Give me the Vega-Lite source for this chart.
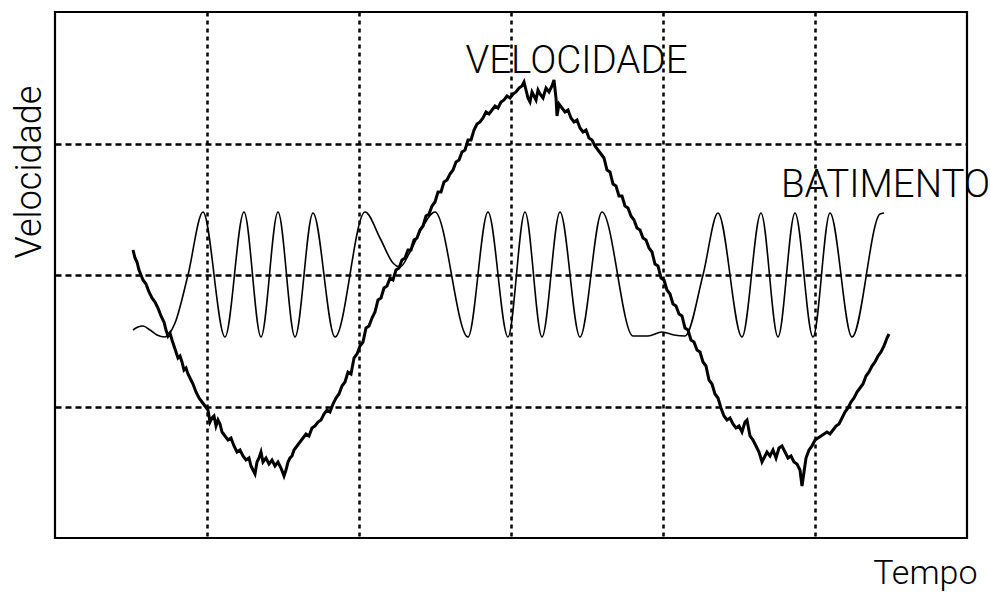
{
  "$schema": "https://vega.github.io/schema/vega-lite/v6.json",
  "width": 912,
  "height": 526,
  "autosize": "none",
  "padding": {"left": 55, "top": 12, "right": 23, "bottom": 55},
  "background": "white",
  "config": {"view": {"stroke": "black", "strokeWidth": 2.2}, "font": "Roboto"},
  "datasets": {
    "beat": [
      {"t":78,"v":-55},{"t":83,"v":-52},{"t":88,"v":-51},{"t":95,"v":-55},{"t":102,"v":-60},{"t":110,"v":-62},{"t":120,"v":-48},{"t":133,"v":0},{"t":148,"v":63},{"t":170,"v":-62},{"t":189,"v":63},{"t":206,"v":-62},{"t":223,"v":63},{"t":240,"v":-62},{"t":258,"v":62},{"t":280,"v":-62},{"t":310,"v":63},{"t":325,"v":37},{"t":338,"v":12},{"t":345,"v":8},{"t":355,"v":23},{"t":367,"v":47},{"t":380,"v":63},{"t":413,"v":-62},{"t":433,"v":63},{"t":453,"v":-62},{"t":470,"v":63},{"t":487,"v":-62},{"t":505,"v":63},{"t":525,"v":-62},{"t":547,"v":63},{"t":578,"v":-61},{"t":593,"v":-61},{"t":607,"v":-57},{"t":619,"v":-60},{"t":630,"v":-61},{"t":648,"v":0},{"t":663,"v":62},{"t":687,"v":-62},{"t":706,"v":62},{"t":723,"v":-62},{"t":740,"v":62},{"t":758,"v":-62},{"t":775,"v":62},{"t":797,"v":-62},{"t":825,"v":61},{"t":829,"v":62}
    ],
    "vel": [
      {"t":78,"v":25},{"t":80,"v":17},{"t":82,"v":13},{"t":84,"v":5},{"t":86,"v":0},{"t":88,"v":-5},{"t":91,"v":-9},{"t":94,"v":-17},{"t":97,"v":-23},{"t":100,"v":-27},{"t":103,"v":-33},{"t":106,"v":-41},{"t":109,"v":-47},{"t":111,"v":-55},{"t":113,"v":-61},{"t":115,"v":-58},{"t":117,"v":-65},{"t":119,"v":-71},{"t":121,"v":-77},{"t":123,"v":-83},{"t":125,"v":-81},{"t":127,"v":-87},{"t":129,"v":-95},{"t":131,"v":-93},{"t":133,"v":-99},{"t":135,"v":-103},{"t":138,"v":-109},{"t":141,"v":-117},{"t":144,"v":-123},{"t":147,"v":-127},{"t":150,"v":-131},{"t":153,"v":-135},{"t":155,"v":-147},{"t":157,"v":-143},{"t":159,"v":-141},{"t":161,"v":-151},{"t":163,"v":-145},{"t":165,"v":-149},{"t":167,"v":-157},{"t":170,"v":-161},{"t":173,"v":-165},{"t":176,"v":-163},{"t":179,"v":-171},{"t":182,"v":-177},{"t":185,"v":-175},{"t":188,"v":-181},{"t":191,"v":-185},{"t":194,"v":-183},{"t":196,"v":-191},{"t":198,"v":-195},{"t":200,"v":-199},{"t":202,"v":-187},{"t":204,"v":-183},{"t":206,"v":-177},{"t":208,"v":-187},{"t":211,"v":-183},{"t":214,"v":-189},{"t":217,"v":-185},{"t":220,"v":-191},{"t":223,"v":-187},{"t":226,"v":-193},{"t":229,"v":-201},{"t":231,"v":-195},{"t":233,"v":-187},{"t":235,"v":-183},{"t":237,"v":-181},{"t":239,"v":-175},{"t":242,"v":-171},{"t":245,"v":-167},{"t":248,"v":-163},{"t":251,"v":-159},{"t":254,"v":-161},{"t":257,"v":-153},{"t":260,"v":-151},{"t":263,"v":-147},{"t":266,"v":-145},{"t":269,"v":-139},{"t":272,"v":-135},{"t":275,"v":-137},{"t":278,"v":-129},{"t":281,"v":-123},{"t":284,"v":-119},{"t":287,"v":-111},{"t":290,"v":-107},{"t":293,"v":-97},{"t":296,"v":-99},{"t":299,"v":-83},{"t":302,"v":-79},{"t":305,"v":-71},{"t":308,"v":-67},{"t":311,"v":-53},{"t":314,"v":-51},{"t":317,"v":-43},{"t":320,"v":-37},{"t":323,"v":-25},{"t":326,"v":-23},{"t":329,"v":-13},{"t":332,"v":-11},{"t":335,"v":-3},{"t":338,"v":-5},{"t":341,"v":5},{"t":344,"v":7},{"t":347,"v":15},{"t":350,"v":17},{"t":353,"v":25},{"t":356,"v":25},{"t":359,"v":35},{"t":362,"v":37},{"t":365,"v":45},{"t":368,"v":49},{"t":371,"v":59},{"t":374,"v":61},{"t":377,"v":69},{"t":380,"v":73},{"t":383,"v":83},{"t":386,"v":83},{"t":389,"v":93},{"t":392,"v":95},{"t":395,"v":101},{"t":398,"v":105},{"t":401,"v":113},{"t":404,"v":115},{"t":407,"v":123},{"t":410,"v":125},{"t":413,"v":135},{"t":416,"v":135},{"t":419,"v":145},{"t":422,"v":151},{"t":425,"v":153},{"t":428,"v":157},{"t":431,"v":163},{"t":434,"v":161},{"t":437,"v":165},{"t":440,"v":169},{"t":443,"v":167},{"t":446,"v":173},{"t":449,"v":175},{"t":452,"v":179},{"t":455,"v":177},{"t":458,"v":181},{"t":461,"v":183},{"t":464,"v":187},{"t":467,"v":189},{"t":469,"v":193},{"t":471,"v":185},{"t":473,"v":177},{"t":475,"v":173},{"t":477,"v":183},{"t":479,"v":179},{"t":481,"v":175},{"t":483,"v":185},{"t":485,"v":181},{"t":488,"v":177},{"t":491,"v":187},{"t":494,"v":183},{"t":497,"v":189},{"t":499,"v":195},{"t":501,"v":177},{"t":502,"v":159},{"t":504,"v":171},{"t":507,"v":167},{"t":510,"v":163},{"t":513,"v":165},{"t":516,"v":157},{"t":519,"v":153},{"t":522,"v":155},{"t":525,"v":147},{"t":528,"v":143},{"t":531,"v":145},{"t":534,"v":137},{"t":537,"v":135},{"t":540,"v":129},{"t":543,"v":125},{"t":546,"v":121},{"t":549,"v":117},{"t":552,"v":105},{"t":555,"v":103},{"t":558,"v":91},{"t":561,"v":89},{"t":564,"v":79},{"t":567,"v":79},{"t":570,"v":69},{"t":573,"v":67},{"t":576,"v":59},{"t":579,"v":55},{"t":582,"v":47},{"t":585,"v":45},{"t":588,"v":37},{"t":591,"v":35},{"t":594,"v":27},{"t":597,"v":23},{"t":600,"v":11},{"t":603,"v":9},{"t":606,"v":-3},{"t":609,"v":-5},{"t":612,"v":-15},{"t":615,"v":-19},{"t":618,"v":-29},{"t":621,"v":-31},{"t":624,"v":-39},{"t":627,"v":-41},{"t":630,"v":-53},{"t":633,"v":-55},{"t":636,"v":-65},{"t":639,"v":-67},{"t":642,"v":-75},{"t":645,"v":-77},{"t":648,"v":-87},{"t":651,"v":-91},{"t":654,"v":-105},{"t":657,"v":-109},{"t":660,"v":-119},{"t":663,"v":-123},{"t":666,"v":-133},{"t":669,"v":-141},{"t":672,"v":-145},{"t":675,"v":-143},{"t":678,"v":-149},{"t":681,"v":-153},{"t":684,"v":-151},{"t":687,"v":-157},{"t":690,"v":-147},{"t":692,"v":-145},{"t":695,"v":-161},{"t":698,"v":-165},{"t":701,"v":-171},{"t":704,"v":-177},{"t":707,"v":-187},{"t":709,"v":-183},{"t":712,"v":-177},{"t":715,"v":-181},{"t":718,"v":-175},{"t":721,"v":-183},{"t":724,"v":-173},{"t":727,"v":-171},{"t":730,"v":-177},{"t":733,"v":-183},{"t":736,"v":-181},{"t":739,"v":-187},{"t":742,"v":-189},{"t":745,"v":-195},{"t":747,"v":-211},{"t":749,"v":-197},{"t":751,"v":-183},{"t":754,"v":-175},{"t":757,"v":-171},{"t":760,"v":-165},{"t":763,"v":-163},{"t":766,"v":-161},{"t":769,"v":-159},{"t":772,"v":-157},{"t":775,"v":-159},{"t":778,"v":-155},{"t":781,"v":-151},{"t":784,"v":-149},{"t":787,"v":-143},{"t":790,"v":-137},{"t":793,"v":-133},{"t":796,"v":-127},{"t":799,"v":-123},{"t":802,"v":-117},{"t":805,"v":-113},{"t":808,"v":-109},{"t":811,"v":-101},{"t":814,"v":-97},{"t":817,"v":-91},{"t":820,"v":-87},{"t":823,"v":-81},{"t":826,"v":-77},{"t":829,"v":-71},{"t":832,"v":-63},{"t":834,"v":-59}
    ],
    "labels": [
      {"t":521.5,"v":202,"label":"VELOCIDADE"},
      {"t":830.5,"v":78,"label":"BATIMENTO"}
    ]
  },
  "encoding": {
    "x": {
      "field": "t", "type": "quantitative",
      "scale": {"domain": [0, 912], "nice": false, "zero": false},
      "axis": {
        "values": [152, 304, 456, 608, 760],
        "grid": true, "gridColor": "black", "gridDash": [4, 4], "gridWidth": 2.5, "gridOpacity": 1,
        "labels": false, "ticks": false, "domain": false,
        "title": "Tempo", "titleFont": "Roboto", "titleFontSize": 34, "titleFontWeight": 300, "titleColor": "black",
        "titleAnchor": "end", "titleAlign": "right", "titleBaseline": "alphabetic", "titleX": 922, "titleY": 45
      }
    },
    "y": {
      "field": "v", "type": "quantitative",
      "scale": {"domain": [-263, 263], "nice": false, "zero": false},
      "axis": {
        "values": [-131.5, 0, 131.5],
        "grid": true, "gridColor": "black", "gridDash": [6, 4], "gridWidth": 2.5, "gridOpacity": 1,
        "labels": false, "ticks": false, "domain": false,
        "title": "Velocidade", "titleFont": "Roboto", "titleFontSize": 36, "titleFontWeight": 300, "titleColor": "black",
        "titleAngle": -90, "titleAlign": "center", "titleBaseline": "alphabetic", "titleX": -15, "titleY": 159.5
      }
    }
  },
  "layer": [
    {
      "data": {"name": "beat"},
      "mark": {"type": "line", "interpolate": "monotone", "color": "black", "strokeWidth": 1.6}
    },
    {
      "data": {"name": "vel"},
      "mark": {"type": "line", "color": "black", "strokeWidth": 3}
    },
    {
      "data": {"name": "labels"},
      "mark": {"type": "text", "font": "Roboto", "fontWeight": 300, "fontSize": 38.5, "align": "center", "baseline": "alphabetic", "color": "black"},
      "encoding": {"text": {"field": "label", "type": "nominal"}}
    }
  ]
}
